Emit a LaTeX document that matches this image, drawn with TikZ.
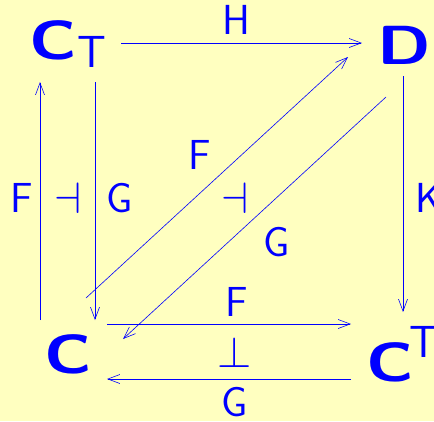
\documentclass[tikz,border=0pt]{standalone}
\usepackage{graphicx}
\usetikzlibrary{arrows.meta}
\definecolor{bgyellow}{RGB}{255,255,192}
\definecolor{txtblue}{RGB}{0,0,255}
\newcommand{\wideobj}[1]{\scalebox{1.3}[1.06]{#1}}
\newcommand{\bigsym}[1]{\scalebox{4.4}{$#1$}}
\tikzset{
  lbl/.style={inner sep=0pt, text=txtblue, font=\sffamily\fontsize{42}{48}\selectfont},
  obj/.style={inner sep=0pt, text=txtblue, font=\sffamily\bfseries\fontsize{52}{60}\selectfont},
  idx/.style={inner sep=0pt, text=txtblue, font=\sffamily\fontsize{45}{52}\selectfont},
  sym/.style={inner sep=0pt, text=txtblue},
  arr/.style={draw=txtblue, line width=0.6pt, -{Straight Barb[length=12pt,width=9pt,line width=0.6pt]}},
}
\begin{document}
\begin{tikzpicture}[x=1pt,y=-1pt]
\fill[bgyellow] (0,0) rectangle (434,421);
\useasboundingbox (0,0) rectangle (434,421);
% objects
\node[obj] (CT) at (53,40) {\wideobj{C}};
\node[idx] (CTi) at (92,52) {T};
\node[obj] (D) at (404,45) {\wideobj{D}};
\node[obj] (C) at (68.5,354) {\wideobj{C}};
\node[obj] (CU) at (390,362) {\wideobj{C}};
\node[idx] (CUi) at (424,342) {T};
% labels
\node[lbl] (H) at (236,20) {H};
\node[lbl] (Fl) at (22,198) {F};
\node[sym] (dv1) at (68,198) {\bigsym{\dashv}};
\node[lbl] (Gl) at (120,198) {G};
\node[lbl] (Fd) at (200,155) {F};
\node[sym] (dv2) at (235,198) {\bigsym{\dashv}};
\node[lbl] (Gd) at (277,242) {G};
\node[lbl] (K) at (429,198) {K};
\node[lbl] (Fb) at (237,302) {F};
\node[sym] (pp) at (235,352) {\bigsym{\perp}};
\node[lbl] (Gb) at (235,402) {G};
% connector ends
\coordinate (h1) at (121,43); \coordinate (h2) at (362,43);
\coordinate (u1) at (40,320); \coordinate (u2) at (40,82);
\coordinate (d1) at (95,82); \coordinate (d2) at (95,320);
\coordinate (k1) at (403,76); \coordinate (k2) at (403,312);
\coordinate (f1) at (86,298); \coordinate (f2) at (348,57);
\coordinate (g1) at (386,97); \coordinate (g2) at (123,339);
\coordinate (b1) at (107,324); \coordinate (b2) at (351,324);
\coordinate (c1) at (351,379); \coordinate (c2) at (107,379);
\draw[arr] (h1) -- (h2);
\draw[arr] (u1) -- (u2);
\draw[arr] (d1) -- (d2);
\draw[arr] (k1) -- (k2);
\draw[arr] (f1) -- (f2);
\draw[arr] (g1) -- (g2);
\draw[arr] (b1) -- (b2);
\draw[arr] (c1) -- (c2);
\end{tikzpicture}
\end{document}
